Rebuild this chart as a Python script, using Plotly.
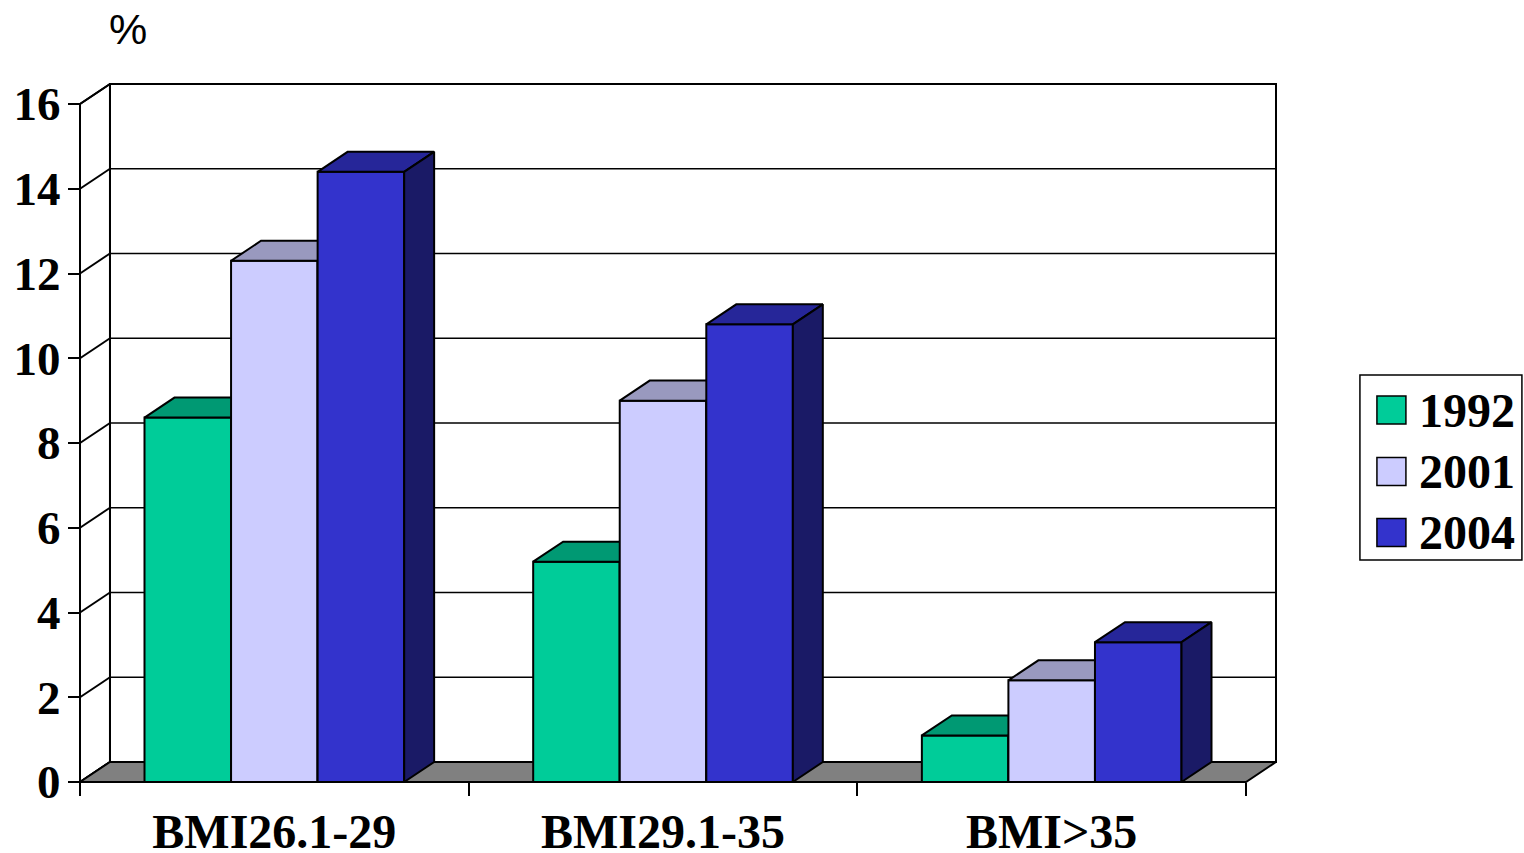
import plotly.graph_objects as go

# ---------------- data ----------------
categories = ["BMI26.1-29", "BMI29.1-35", "BMI>35"]
years = ["1992", "2001", "2004"]
values_1992 = [8.6, 5.2, 1.1]
values_2001 = [12.3, 9.0, 2.4]
values_2004 = [14.4, 10.8, 3.3]
y_ticks = [0, 2, 4, 6, 8, 10, 12, 14, 16]
y_unit = "%"

# ---------------- style ----------------
front_colors = ["#00CC99", "#CCCCFF", "#3333CC"]
top_colors = ["#009973", "#9999BF", "#262699"]
side_colors = ["#00664D", "#666680", "#1A1A66"]
floor_color = "#808080"
serif = "Liberation Serif"
sans = "Liberation Sans"

series = [values_1992, values_2001, values_2004]
ncat = len(categories)
ymax = y_ticks[-1]

# 3-D projection offsets (data units) and bar width
dx = 0.0771
dy = 0.472
bw = 0.2227
x_lo, x_hi = -0.5, ncat - 0.5

# pixel layout
W, H = 1524, 853
ux = 388.7      # px per x unit
uy = 42.375     # px per y unit
pad = 4
left_px, bottom_px = 80, 782
ml = left_px - pad
plot_w = (x_hi + dx - x_lo) * ux + 2 * pad
mb = H - bottom_px - pad
plot_h = (ymax + dy) * uy + 2 * pad
mt = H - mb - plot_h
mr = W - ml - plot_w


def px2paper_x(px):
    return (px - ml) / plot_w


def px2paper_y(py):
    return (H - mb - py) / plot_h


fig = go.Figure()


def poly(xs, ys, fill, lw=2):
    fig.add_trace(go.Scatter(
        x=list(xs) + [xs[0]], y=list(ys) + [ys[0]],
        mode="lines", fill="toself", fillcolor=fill,
        line=dict(color="black", width=lw),
        hoverinfo="skip", showlegend=False))


def seg(xs, ys, lw=2):
    fig.add_trace(go.Scatter(
        x=xs, y=ys, mode="lines", line=dict(color="black", width=lw),
        hoverinfo="skip", showlegend=False))


# back wall
poly([x_lo + dx, x_hi + dx, x_hi + dx, x_lo + dx], [dy, dy, ymax + dy, ymax + dy], "white")
# left wall
poly([x_lo, x_lo + dx, x_lo + dx, x_lo], [0, dy, ymax + dy, ymax], "white")
# gridlines
for t in y_ticks[1:-1]:
    seg([x_lo + dx, x_hi + dx], [t + dy, t + dy], 1.5)
for t in y_ticks:
    seg([x_lo, x_lo + dx], [t, t + dy], 2)
# floor
poly([x_lo, x_hi, x_hi + dx, x_lo + dx], [0, 0, dy, dy], floor_color)

# bars (painter's order: left to right)
for c in range(ncat):
    for s in range(len(series)):
        h = series[s][c]
        x0 = c + (s - 1.5) * bw
        x1 = x0 + bw
        poly([x0, x1, x1, x0], [0, 0, h, h], front_colors[s])
        poly([x0, x1, x1 + dx, x0 + dx], [h, h, h + dy, h + dy], top_colors[s])
        poly([x1, x1 + dx, x1 + dx, x1], [0, dy, h + dy, h], side_colors[s])

# front axis lines
seg([x_lo, x_hi], [0, 0], 2)
seg([x_lo, x_lo], [0, ymax], 2)

fig.update_layout(
    width=W, height=H, autosize=False, template="none",
    paper_bgcolor="white", plot_bgcolor="white",
    margin=dict(l=ml, r=mr, t=mt, b=mb, pad=0),
    showlegend=False,
    xaxis=dict(
        range=[x_lo - pad / ux, x_hi + dx + pad / ux],
        anchor="free", position=pad / plot_h,
        showgrid=False, zeroline=False, showline=False, automargin=False,
        tickmode="array", tickvals=list(range(ncat)), ticktext=categories,
        ticks="outside", ticklen=7, tickcolor="rgba(0,0,0,0)",
        tickfont=dict(family=serif, size=48, color="black", weight="bold"),
        minor=dict(tickmode="array", tickvals=[x_lo + i for i in range(ncat + 1)],
                   ticks="outside", ticklen=13, tickwidth=2, tickcolor="black",
                   showgrid=False),
        fixedrange=True,
    ),
    yaxis=dict(
        range=[-pad / uy, ymax + dy + pad / uy],
        anchor="free", position=pad / plot_w,
        showgrid=False, zeroline=False, showline=False, automargin=False,
        tickmode="array", tickvals=y_ticks, ticktext=[str(t) for t in y_ticks],
        ticks="outside", ticklen=12, tickwidth=2, tickcolor="black",
        ticklabelstandoff=-2,
        tickfont=dict(family=serif, size=47, color="black", weight="bold"),
        fixedrange=True,
    ),
)

# unit label
fig.add_annotation(text=y_unit, xref="paper", yref="paper",
                   x=px2paper_x(128), y=px2paper_y(29), xanchor="center", yanchor="middle",
                   showarrow=False, font=dict(family=sans, size=43, color="black"))

# legend (box, swatches, labels)
fig.add_shape(type="rect", xref="paper", yref="paper",
              x0=px2paper_x(1360), x1=px2paper_x(1522),
              y0=px2paper_y(560), y1=px2paper_y(375),
              line=dict(color="black", width=1.5), fillcolor="white", layer="above")
centers = [410, 471.5, 532.5]
for s, yr in enumerate(years):
    cy = centers[s]
    fig.add_shape(type="rect", xref="paper", yref="paper",
                  x0=px2paper_x(1377), x1=px2paper_x(1406),
                  y0=px2paper_y(cy + 14), y1=px2paper_y(cy - 14),
                  line=dict(color="black", width=1.5), fillcolor=front_colors[s], layer="above")
    fig.add_annotation(text=yr, xref="paper", yref="paper",
                       x=px2paper_x(1417), y=px2paper_y(cy), xanchor="left", yanchor="middle",
                       showarrow=False, font=dict(family=serif, size=48, color="black", weight="bold"))

fig.write_html("out.html", config=dict(displayModeBar=False),
               post_script="document.body.style.margin='0';document.body.style.overflow='hidden';")
